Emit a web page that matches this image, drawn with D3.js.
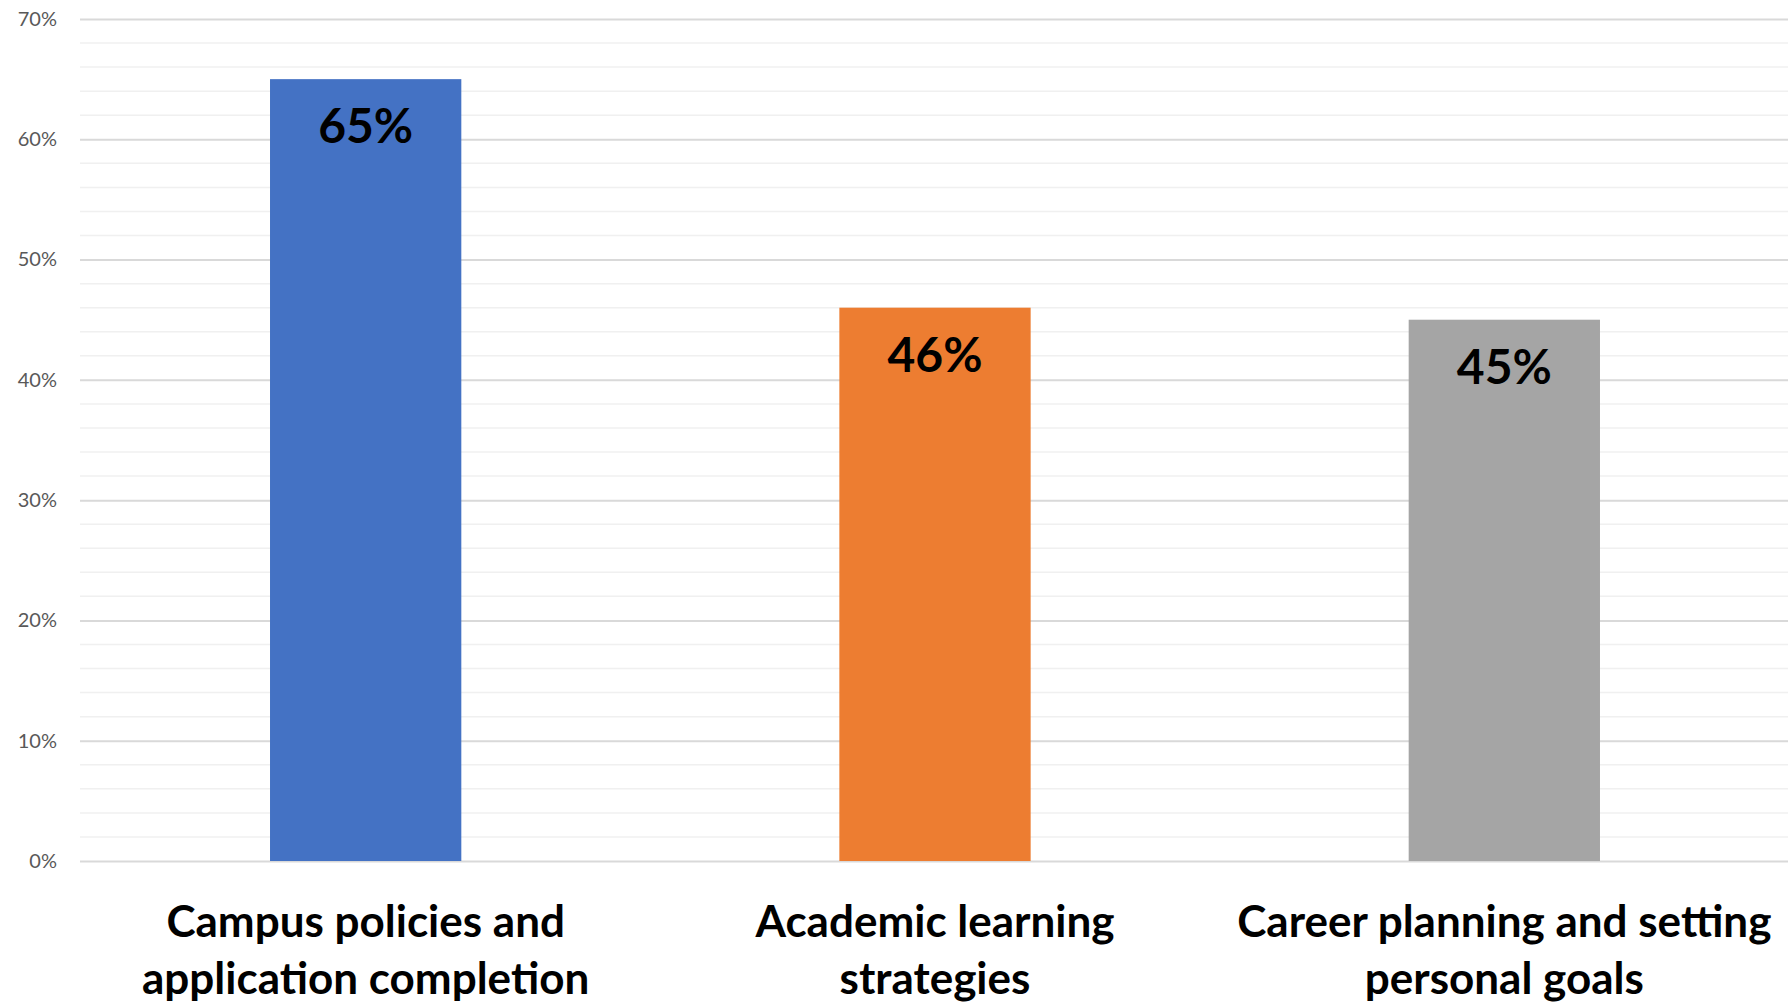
<!DOCTYPE html>
<html>
<head>
<meta charset="utf-8">
<script src="https://cdn.jsdelivr.net/npm/d3@7"></script>
<style>
  body { margin: 0; background: #fff; }
  svg { display: block; }
</style>
</head>
<body>
<div id="chart"></div>
<script>
// categories (two lines each) and values in percent
var categories = [
  ["Campus policies and", "application completion"],
  ["Academic learning", "strategies"],
  ["Career planning and setting", "personal goals"]
];
var values = [65, 46, 45];
var colors = ["#4472C4", "#ED7D31", "#A5A5A5"];
var yTicks = [0, 10, 20, 30, 40, 50, 60, 70];
var minorTicks = d3.range(0, 71, 2);

var W = 1788, H = 1004;
var margin = {top: 19, right: 0, bottom: 143, left: 80};
var width = W - margin.left - margin.right,
    height = H - margin.top - margin.bottom;

var svg = d3.select("#chart").append("svg")
    .attr("width", W)
    .attr("height", H)
  .append("g")
    .attr("transform", "translate(" + margin.left + "," + margin.top + ")");

var x = d3.scaleBand()
    .domain(d3.range(values.length))
    .range([1, width + 1])
    .paddingInner(0.664)
    .paddingOuter(0.332);

var y = d3.scaleLinear()
    .domain([0, 70])
    .range([height, 0]);

// minor gridlines
svg.append("g")
  .selectAll("line")
  .data(minorTicks.filter(function(d) { return d % 10 != 0; }))
  .enter().append("line")
    .attr("x1", 0).attr("x2", width)
    .attr("y1", function(d) { return y(d); })
    .attr("y2", function(d) { return y(d); })
    .attr("stroke", "#f0f0f0")
    .attr("stroke-width", 1.5);

// major gridlines + labels via axis
var yAxis = svg.append("g")
    .call(d3.axisLeft(y).tickValues(yTicks).tickSize(-width).tickPadding(23)
      .tickFormat(function(d) { return d + "%"; }));
yAxis.select(".domain").remove();
yAxis.selectAll(".tick line")
    .attr("stroke", "#d9d9d9")
    .attr("stroke-width", 2);
yAxis.selectAll(".tick text")
    .attr("fill", "#595959")
    .attr("font-family", "Lato, 'Open Sans', sans-serif")
    .attr("font-size", 20);

// bars
svg.selectAll(".bar")
    .data(values)
  .enter().append("rect")
    .attr("class", "bar")
    .attr("x", function(d, i) { return x(i); })
    .attr("y", function(d) { return y(d); })
    .attr("width", x.bandwidth())
    .attr("height", function(d) { return height - y(d); })
    .attr("fill", function(d, i) { return colors[i]; });

// value labels
svg.selectAll(".val")
    .data(values)
  .enter().append("text")
    .attr("class", "val")
    .attr("x", function(d, i) { return x(i) + x.bandwidth() / 2; })
    .attr("y", function(d) { return y(d) + 64; })
    .attr("text-anchor", "middle")
    .attr("font-family", "Lato, 'Open Sans', sans-serif")
    .attr("font-weight", "bold")
    .attr("font-size", 48)
    .attr("fill", "#000")
    .text(function(d) { return d + "%"; });

// category labels
var cat = svg.selectAll(".cat")
    .data(categories)
  .enter().append("text")
    .attr("class", "cat")
    .attr("text-anchor", "middle")
    .attr("font-family", "Lato, 'Open Sans', sans-serif")
    .attr("font-weight", "bold")
    .attr("font-size", 44)
    .attr("fill", "#000");
cat.selectAll("tspan")
    .data(function(d, i) { return d.map(function(t) { return {t: t, i: i}; }); })
  .enter().append("tspan")
    .attr("x", function(d) { return x(d.i) + x.bandwidth() / 2; })
    .attr("y", function(d, j) { return height + 76 + j * 57; })
    .text(function(d) { return d.t; });
</script>
</body>
</html>
